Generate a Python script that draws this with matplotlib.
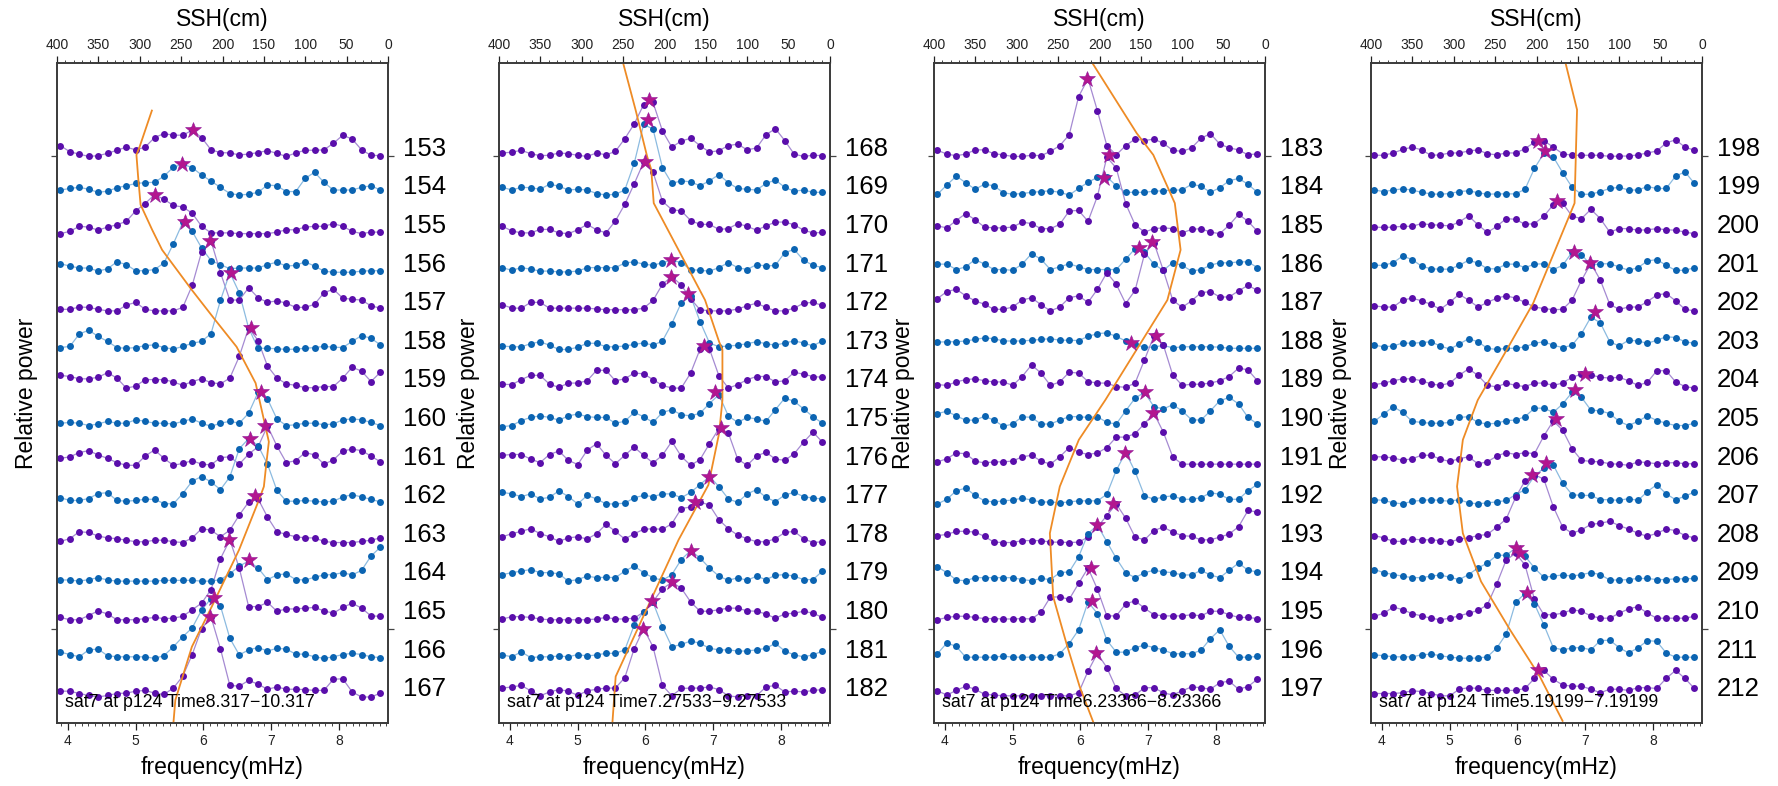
import numpy as np
import matplotlib
matplotlib.use('Agg')
import matplotlib.pyplot as plt
from matplotlib.ticker import MultipleLocator
import matplotlib.transforms as mtransforms

plt.rcParams['font.family'] = ['Liberation Sans', 'DejaVu Sans']

# frequency bins (mHz): 1/(2 h) resolution
freq = np.arange(28, 63) / 7.2

# ---------------- panel 1 : traces 153-167 (relative power, % of trace spacing)
p153 = [28,12,6,0,2,8,16,24,17,24,49,59,55,55,68,49,17,10,9,4,6,10,15,8,0,9,16,16,17,34,55,45,17,3,2]
p154 = [13,17,20,15,7,10,19,24,30,32,33,49,72,80,71,52,36,20,4,0,2,7,26,24,9,9,43,59,33,13,13,13,20,24,13]
p155 = [0,6,19,17,9,17,23,32,59,78,101,89,73,69,53,19,2,2,2,0,0,0,0,4,10,10,17,19,19,26,19,6,0,4,4]
p156 = [22,16,11,11,3,9,27,20,4,4,7,24,74,129,106,63,30,20,9,11,11,11,20,26,16,18,27,16,3,0,0,0,3,4,4]
p157 = [4,4,10,9,4,0,0,15,22,4,0,0,0,9,66,153,181,99,28,28,60,34,22,26,20,9,9,17,47,56,33,30,28,13,7]
p158 = [5,8,40,50,34,21,5,3,5,10,12,5,1,8,16,21,41,127,199,147,55,3,3,2,0,1,3,5,8,6,5,21,36,29,12]
p159 = [33,30,24,24,28,40,26,0,5,22,22,22,16,7,17,24,14,11,26,82,156,123,57,26,11,7,1,1,4,4,26,54,44,17,41]
p160 = [9,11,9,3,7,14,9,9,18,14,9,9,7,14,20,9,1,9,14,9,35,89,72,20,3,5,9,9,5,7,18,20,18,11,3]
p161 = [18,22,33,38,27,18,7,0,0,24,40,18,0,5,12,3,1,20,22,3,29,48,102,50,7,12,33,27,3,14,37,42,38,24,9]
p162 = [16,9,9,14,27,29,9,7,9,12,12,1,0,27,59,71,57,37,70,143,169,151,103,35,7,7,9,7,5,7,18,24,18,12,5]
p163 = [3,10,28,26,17,12,10,6,2,2,6,6,2,0,12,36,32,15,32,71,105,113,66,28,21,15,12,12,3,0,0,0,3,6,12]
p164 = [3,3,0,4,9,3,0,0,0,0,0,2,2,2,2,0,0,4,19,39,52,34,4,16,19,4,3,10,16,17,22,16,28,65,88]
p165 = [6,0,0,11,23,15,0,0,0,3,6,3,4,9,26,43,78,158,207,134,34,34,45,22,28,28,30,32,23,17,32,43,30,10,9]
p166 = [16,10,4,22,24,7,4,4,4,4,0,7,30,56,79,125,155,136,52,9,22,28,19,26,24,11,11,4,0,4,10,13,10,4,2]
p167 = [15,15,9,4,0,4,9,10,15,17,10,7,23,54,110,177,207,125,30,28,43,33,20,26,20,20,19,17,17,46,47,13,0,0,10]
star_f1 = [5.85,5.69,5.28,5.73,6.10,6.41,6.70,6.85,6.91,6.68,6.76,6.67,6.38,6.15,6.09]
star_h1 = [68,80,101,129,181,199,156,89,102,169,121,56,207,157,207]
ssh1 = [285,300,304,302,299,285,273,237,209,183,160,145,144,147,150,156,180,213,237,257,260]
ssh_t1 = [15.21,14.26,14.04,13.48,12.75,12.10,11.58,10.54,9.77,9.07,8.13,6.71,6.61,6.05,5.45,5.10,3.81,2.34,1.30,-0.08,-0.85]

# ---------------- panel 2 : traces 168-182
p168 = [9,11,16,7,2,3,9,7,3,0,9,4,13,46,84,134,140,66,24,40,47,28,11,15,28,32,17,22,56,72,41,6,0,3,2]
p169 = [20,13,20,19,15,28,23,13,15,13,4,0,2,13,82,183,171,71,30,37,34,24,37,53,32,17,15,13,30,39,20,10,13,7,7]
p170 = [19,7,2,2,11,11,2,0,10,24,10,2,33,76,129,185,159,84,62,59,34,24,24,11,13,26,19,9,20,30,30,23,9,2,3]
p171 = [12,5,12,8,3,3,1,1,3,12,12,12,12,24,27,21,18,25,31,25,7,5,3,12,25,12,7,20,16,18,51,59,31,18,12]
p172 = [16,7,7,22,22,7,7,7,7,7,5,3,3,3,3,7,27,69,89,67,31,3,0,0,0,5,13,20,9,0,0,7,20,22,14]
p173 = [9,7,7,15,20,11,0,0,6,16,16,7,7,9,13,17,11,22,67,121,138,72,17,7,9,11,15,20,15,11,17,22,17,9,23]
p174 = [10,9,22,33,33,10,2,13,13,19,46,46,19,24,39,37,22,7,0,0,39,101,101,32,0,9,22,30,30,16,19,41,36,30,28]
p175 = [0,3,16,24,28,24,17,28,33,26,24,24,9,14,37,26,11,37,44,31,28,35,60,83,28,11,24,20,14,44,74,66,46,26,9]
p176 = [26,28,28,16,7,28,37,13,2,39,56,26,4,26,47,26,6,26,62,23,0,15,56,95,84,16,0,24,34,16,13,30,60,86,60]
p177 = [30,26,19,26,13,17,34,19,0,22,13,0,0,2,16,22,19,26,26,16,30,50,71,45,13,4,26,37,17,6,23,30,19,15,13]
p178 = [15,23,29,36,23,15,3,12,15,9,23,47,29,9,23,34,36,34,49,88,92,105,97,59,36,19,10,2,2,10,26,29,10,0,2]
p179 = [17,22,26,30,22,22,19,0,4,13,9,10,9,26,39,22,9,2,17,56,79,60,34,13,2,9,2,13,4,15,17,13,4,4,26]
p180 = [2,8,8,6,2,0,0,0,0,0,2,6,2,2,4,20,47,80,97,82,46,22,22,26,30,30,23,22,15,4,15,17,22,17,6]
p181 = [9,4,17,2,4,4,6,4,10,6,9,13,13,22,86,121,145,82,30,36,45,39,26,22,22,19,19,22,26,39,19,9,4,9,19]
p182 = [23,26,30,16,3,13,19,15,4,16,20,23,23,50,125,177,130,30,3,22,23,23,26,19,3,0,3,3,26,30,13,15,13,17,19]
star_f2 = [6.05,6.03,6.00,6.38,6.38,6.62,6.86,7.02,7.12,6.93,6.73,6.67,6.39,6.10,5.97]
star_h2 = [145,194,185,33,89,145,108,89,97,71,105,79,97,148,177]
ssh2 = [251,235,221,216,213,151,134,130,130,134,147,183,259,263]
ssh_t2 = [16.5,15.21,14.0,13.66,12.79,10.28,9.20,8.99,7.69,6.83,5.49,4.07,0.53,-0.68]

# ---------------- panel 3 : traces 183-197
p183 = [16,6,2,6,17,17,7,4,0,0,3,2,13,28,56,155,201,118,28,4,28,45,41,45,34,16,13,22,47,59,32,22,17,4,7]
p184 = [2,26,49,32,15,28,24,6,2,4,7,9,11,7,0,17,33,46,47,24,7,7,7,10,11,13,13,28,23,7,19,37,43,28,7]
p185 = [20,15,34,52,36,17,15,15,17,30,26,13,13,24,59,60,32,97,198,170,78,23,4,13,15,13,2,11,13,4,0,22,50,32,6]
p186 = [21,21,7,14,33,21,7,7,5,21,48,34,7,14,22,14,7,7,7,7,34,61,52,21,5,25,18,3,7,18,25,24,27,27,12]
p187 = [32,50,56,39,26,17,4,4,10,28,34,16,0,10,34,39,22,56,99,69,19,53,147,177,105,28,9,26,47,50,36,36,52,66,53]
p188 = [19,20,20,22,26,30,28,22,22,22,24,26,28,24,24,23,34,41,43,34,22,13,6,6,11,4,7,7,7,7,6,3,3,3,3]
p189 = [9,7,16,22,24,19,16,16,7,30,60,39,7,16,41,39,17,13,13,4,2,13,73,135,112,34,7,10,10,13,19,30,52,47,19]
p190 = [34,40,28,17,17,27,17,1,7,26,24,7,7,17,26,26,24,26,11,7,41,74,89,52,46,57,41,18,17,41,67,76,59,24,7]
p191 = [9,17,32,30,11,6,9,9,11,22,26,11,3,22,46,34,28,32,46,73,73,82,108,135,86,22,3,3,3,3,3,3,3,3,3]
p192 = [0,12,34,41,22,8,5,8,10,15,10,5,5,3,5,8,8,8,25,87,133,84,21,12,18,21,12,12,16,29,25,12,12,34,51]
p193 = [18,21,29,29,27,16,1,0,0,5,5,5,1,1,0,1,14,40,70,100,63,14,7,31,40,27,18,16,7,7,14,22,41,83,79]
p194 = [37,22,3,1,9,9,9,9,9,4,1,7,4,22,24,63,123,145,102,59,22,9,22,28,24,22,16,16,28,16,9,28,47,28,24]
p195 = [0,6,9,9,6,3,3,2,2,3,2,19,59,59,53,94,134,79,10,10,41,49,30,13,10,10,10,13,10,22,22,13,6,6,3]
p196 = [12,40,31,3,3,3,3,6,3,3,3,3,3,12,38,74,146,116,47,16,16,28,34,28,22,12,12,12,21,51,74,31,3,3,5]
p197 = [16,5,17,28,20,7,5,3,3,3,3,3,3,3,3,11,67,113,76,22,3,5,24,24,11,5,16,26,24,20,37,41,20,27,46]
star_f3 = [6.10,6.35,6.42,6.86,7.06,6.75,7.12,6.95,7.07,6.66,6.48,6.24,6.15,6.17,6.23]
star_h3 = [201,43,204,64,179,17,135,89,135,133,100,145,134,148,113]
ssh3 = [211,155,135,109,102,118,193,225,248,260,256,240,224,207]
ssh_t3 = [16.5,14.6,14.04,12.79,11.58,10.28,7.69,6.66,5.45,4.24,2.60,1.39,0.27,-0.68]

# ---------------- panel 4 : traces 198-212
p198 = [3,3,9,18,24,17,3,4,9,9,14,17,7,4,9,9,20,37,41,24,7,3,3,3,3,0,1,1,4,9,14,35,43,24,16]
p199 = [13,9,13,16,13,7,3,2,4,9,11,6,2,3,3,3,15,69,108,99,58,20,2,2,9,17,20,13,13,22,17,17,49,60,30]
p200 = [17,16,17,19,19,26,23,22,20,30,46,23,3,19,39,37,24,26,45,75,79,45,39,63,39,4,13,13,9,10,13,10,9,4,0]
p201 = [18,18,25,42,33,16,9,8,8,18,31,24,9,9,21,21,12,21,22,7,18,52,46,18,22,22,14,5,12,29,33,18,5,5,12]
p202 = [13,10,10,28,33,26,17,4,22,43,28,10,22,33,39,33,22,10,6,3,4,28,79,123,80,17,4,10,10,24,41,45,26,4,0]
p203 = [11,7,9,17,16,18,20,9,1,14,28,20,3,0,3,3,7,16,20,11,5,11,41,84,69,20,9,24,22,16,24,33,31,20,16]
p204 = [9,13,19,24,24,19,11,7,13,33,50,33,7,3,13,7,4,13,13,7,13,28,36,34,28,26,28,19,7,15,45,45,16,4,0]
p205 = [14,33,52,37,14,11,9,9,11,24,26,11,7,9,16,17,26,48,48,37,59,89,76,43,41,34,14,3,14,28,16,9,3,3,9]
p206 = [22,22,19,13,17,26,26,16,10,17,22,4,9,24,33,28,33,30,76,115,91,43,13,10,9,4,3,0,9,7,4,6,7,4,4]
p207 = [11,9,3,0,7,9,11,9,7,11,3,0,3,5,9,24,37,72,93,101,54,24,22,22,11,11,9,14,9,32,50,26,11,20,31]
p208 = [18,12,3,3,9,7,7,5,1,9,12,18,21,40,61,117,160,176,164,93,40,24,33,47,50,55,44,35,24,16,24,35,31,18,12]
p209 = [30,22,17,13,9,9,13,16,10,4,17,34,47,67,67,86,65,34,10,13,16,13,17,22,17,3,3,4,7,7,4,4,6,6,7]
p210 = [9,17,33,26,16,10,4,0,4,10,17,24,39,93,155,172,142,53,13,13,17,26,22,10,4,4,17,28,34,17,4,4,4,4,9]
p211 = [9,7,4,4,4,9,11,7,3,1,0,1,4,27,63,145,168,141,87,28,22,27,28,22,46,47,28,14,27,46,44,14,3,3,3]
p212 = [9,9,9,11,16,14,9,3,3,20,24,22,17,17,17,17,22,48,69,46,31,28,28,20,11,20,20,17,24,24,22,48,69,48,22]
star_f4 = [6.31,6.40,6.59,6.84,7.07,7.14,6.99,6.85,6.57,6.42,6.22,5.98,6.04,6.14,6.31]
star_h4 = [41,114,84,53,123,97,36,96,119,106,176,86,172,169,69]
ssh4 = [167,151,154,204,236,271,289,296,289,267,232,196,168]
ssh_t4 = [16.6,15.21,12.79,10.20,8.99,7.69,6.66,5.45,4.24,2.99,1.74,0.53,-0.64]

time_labels = ['sat7 at p124 Time8.317\u221210.317',
               'sat7 at p124 Time7.27533\u22129.27533',
               'sat7 at p124 Time6.23366\u22128.23366',
               'sat7 at p124 Time5.19199\u22127.19199']

panels = [
    (list(range(153, 168)), [p153,p154,p155,p156,p157,p158,p159,p160,p161,p162,p163,p164,p165,p166,p167],
     star_f1, star_h1, ssh1, ssh_t1, time_labels[0]),
    (list(range(168, 183)), [p168,p169,p170,p171,p172,p173,p174,p175,p176,p177,p178,p179,p180,p181,p182],
     star_f2, star_h2, ssh2, ssh_t2, time_labels[1]),
    (list(range(183, 198)), [p183,p184,p185,p186,p187,p188,p189,p190,p191,p192,p193,p194,p195,p196,p197],
     star_f3, star_h3, ssh3, ssh_t3, time_labels[2]),
    (list(range(198, 213)), [p198,p199,p200,p201,p202,p203,p204,p205,p206,p207,p208,p209,p210,p211,p212],
     star_f4, star_h4, ssh4, ssh_t4, time_labels[3]),
]

W, H = 1778, 786
fig = plt.figure(figsize=(W / 100, H / 100), dpi=100)

lefts = [57, 499, 934, 1371]
aw, ab, ah = 331, 63, 660

dot_cols = ['#5a0eab', '#0b64b2']
line_cols = ['#a58ad2', '#8cbbe0']
star_col = '#b3168f'
orange = '#ee8b25'
spine_col = '#3a3a3a'

for (ids, traces, sf, sh, ssh, ssh_t, tlabel), lx in zip(panels, lefts):
    ax = fig.add_axes([lx / W, ab / H, aw / W, ah / H])
    ax2 = ax.twiny()
    n = len(traces)
    bases = np.array([n - 1 - i for i in range(n)], dtype=float)
    lab_tr = mtransforms.blended_transform_factory(ax.transAxes, ax.transData)
    for i, (tid, vals) in enumerate(zip(ids, traces)):
        y = bases[i] + np.asarray(vals) / 100.0
        c = i % 2
        ax.plot(freq, y, '-', color=line_cols[c], lw=0.9, zorder=2)
        ax.plot(freq, y, 'o', color=dot_cols[c], ms=5.0, mec='none', zorder=3)
        ax.text(1.046, bases[i] + 0.2, str(tid), transform=lab_tr, fontsize=18.5,
                ha='left', va='center')
    # SSH curve on the top (SSH) scale
    ax.plot(ssh, ssh_t, color=orange, lw=1.3, zorder=4, transform=ax2.transData,
            solid_capstyle='butt')
    # picked peaks
    ax.plot(sf, bases + np.asarray(sh) / 100.0, '*', color=star_col, ms=12,
            mec='#8e1a9c', mew=0.4, zorder=5)

    ax.set_xlim(3.838, 8.723)
    ax.set_ylim(-0.674, 16.42)
    ax2.set_xlim(400, 0)

    ax.xaxis.set_major_locator(MultipleLocator(1))
    ax.xaxis.set_minor_locator(MultipleLocator(0.1))
    ax.tick_params(axis='x', which='major', direction='out', length=5, width=0.9,
                   labelsize=10, pad=3, colors='#222222')
    ax.tick_params(axis='x', which='minor', direction='out', length=2.5, width=0.7,
                   colors='#444444')
    ax2.xaxis.set_major_locator(MultipleLocator(50))
    ax2.xaxis.set_minor_locator(MultipleLocator(10))
    ax2.tick_params(axis='x', which='major', direction='out', length=5, width=0.9,
                    labelsize=10, pad=3, colors='#222222')
    ax2.tick_params(axis='x', which='minor', direction='out', length=2.5, width=0.7,
                    colors='#444444')
    ax.set_yticks([1.76, 14.0])
    ax.tick_params(axis='y', left=True, right=True, labelleft=False, labelright=False,
                   direction='out', length=4, width=0.9, colors='#444444')
    ax2.tick_params(axis='y', left=False, right=False, labelleft=False, labelright=False)

    for a in (ax, ax2):
        for s in a.spines.values():
            s.set_color(spine_col)
            s.set_linewidth(1.2)

    ax.text(0.5, 1.066, 'SSH(cm)', transform=ax.transAxes, fontsize=16.5,
            ha='center', va='center')
    ax.text(0.5, -0.068, 'frequency(mHz)', transform=ax.transAxes, fontsize=16.5,
            ha='center', va='center')
    ax.text(-0.093, 0.5, 'Relative power', transform=ax.transAxes, fontsize=16.5,
            ha='center', va='center', rotation=90)
    ax.text(0.024, 0.031, tlabel, transform=ax.transAxes, fontsize=12.8,
            ha='left', va='center', zorder=6)

fig.savefig('out.png', dpi=100)
